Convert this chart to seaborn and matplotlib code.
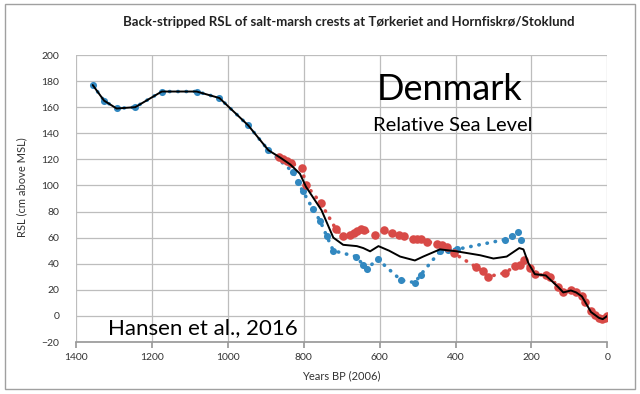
import matplotlib
matplotlib.use("Agg")
import matplotlib.pyplot as plt
from matplotlib.patches import Rectangle
import seaborn as sns

# ------------------------------------------------------------------
# Data (years BP vs RSL in cm above MSL)
# ------------------------------------------------------------------
blue_years = [1356, 1326, 1293, 1244, 1174, 1082, 1022, 946, 893, 827, 816, 803,
              776, 757, 739, 722, 662, 643, 634, 605, 544, 507, 492, 441, 419,
              397, 270, 252, 234, 228]
blue_rsl = [177, 165, 159, 160, 172, 172, 167, 146, 127, 110, 103, 96,
            82, 73, 61, 50, 45.5, 39, 36, 43.5, 27.5, 25.5, 31.5, 49.5, 50.5,
            51, 58.5, 61.5, 64, 58.5]

red_years = [864, 854, 843, 834, 805, 794, 755, 716, 697, 678, 668, 659, 650,
             640, 612, 588, 568, 548, 536, 513, 502, 492, 474, 450, 436, 423,
             404, 346, 328, 315, 270, 243, 231, 220, 204, 191, 162, 151, 129,
             116, 96, 82, 67, 59, 43, 32, 22, 14, 6, 0]
red_rsl = [122, 120, 118.5, 117.5, 113, 100.5, 86.5, 67, 61, 62, 63.5, 65, 67,
           66, 62, 65.5, 63.5, 62, 61, 59, 59, 59, 57, 55.5, 54.5, 53,
           48, 37.5, 34.5, 30, 33, 38, 39, 42.5, 36.5, 32, 31, 30, 22,
           18, 19.5, 18, 15, 11, 3.5, 1, -1.5, -2.5, -1.5, 0]

mean_years = [1356, 1326, 1293, 1244, 1174, 1082, 1022, 946, 893, 860, 835, 810,
              794, 753, 722, 696, 660, 643, 625, 603, 575, 546, 507, 485, 441,
              397, 335, 300, 265, 232, 221, 208, 191, 162, 129, 116, 96, 82,
              67, 59, 43, 22, 12, 0]
mean_rsl = [177, 165, 159, 160, 172, 172, 167, 146, 127, 121, 116, 109,
            99, 81, 60, 54.5, 53.5, 52, 49.5, 53.5, 50, 45.5, 42.5, 45.5, 51,
            49.5, 46.5, 44, 45.5, 52, 51, 40.5, 32, 31, 22, 18, 19.5, 18,
            15, 11, 3, -1.5, -2.5, 0]

blue = "#3288c0"
red = "#d84a47"

sns.set_theme(style="white")
plt.rcParams["font.family"] = ["Lato", "DejaVu Sans"]

fig = plt.figure(figsize=(6.4, 3.94), dpi=100)
ax = fig.add_axes([76 / 640, 1 - 342 / 394, (607.3 - 76) / 640, (342 - 55) / 394])

# dotted series with markers
dots = dict(linestyle=(0, (0.1, 2.2)), linewidth=2.6, dash_capstyle="round")
sns.lineplot(x=blue_years, y=blue_rsl, sort=False, color=blue, ax=ax, **dots)
sns.lineplot(x=red_years, y=red_rsl, sort=False, color=red, ax=ax, **dots)
sns.scatterplot(x=blue_years, y=blue_rsl, color=blue, s=26, linewidth=0, ax=ax, zorder=3)
sns.scatterplot(x=red_years, y=red_rsl, color=red, s=38, linewidth=0, ax=ax, zorder=3)

# black "mean" curve on top
sns.lineplot(x=mean_years, y=mean_rsl, sort=False, color="black", linewidth=1.4,
             ax=ax, zorder=4)

ax.set_xlim(1400, 0)
ax.set_ylim(-20, 200)
ax.set_xticks(range(0, 1401, 200))
ax.set_yticks(range(-20, 201, 20))
ax.grid(True, color="#bdbdbd", linewidth=0.9)
ax.set_axisbelow(True)
for side in ["top", "right", "left"]:
    ax.spines[side].set_visible(False)
ax.spines["bottom"].set_color("#9a9a9a")
ax.tick_params(axis="x", bottom=True, length=4, color="#9a9a9a", labelsize=7.5,
               labelcolor="#333333", pad=4)
ax.tick_params(axis="y", left=False, labelsize=7.5, labelcolor="#333333", pad=6)

ax.set_xlabel("Years BP (2006)", fontsize=8, color="#333333", labelpad=6)
ax.set_ylabel("RSL (cm above MSL)", fontsize=8, color="#333333")
ax.yaxis.set_label_coords(-0.092, 0.54)

fig.text(0.545, 0.945, "Back-stripped RSL of salt-marsh crests at Tørkeriet and Hornfiskrø/Stoklund",
         ha="center", va="center", fontsize=9.5, fontweight="bold", color="#222222")
ax.text(0.704, 0.88, "Denmark", transform=ax.transAxes, ha="center", va="center",
        fontsize=26, color="black")
ax.text(0.71, 0.755, "Relative Sea Level", transform=ax.transAxes, ha="center",
        va="center", fontsize=14.5, color="black")
ax.text(0.06, 0.05, "Hansen et al., 2016", transform=ax.transAxes, ha="left",
        va="center", fontsize=16, color="black")

# light frame around the whole chart
fig.patches.append(Rectangle((5 / 640, 5 / 394), 630 / 640, 385 / 394,
                             transform=fig.transFigure, fill=False,
                             edgecolor="#a0a0a0", linewidth=1))

fig.savefig("out.png", dpi=100)
